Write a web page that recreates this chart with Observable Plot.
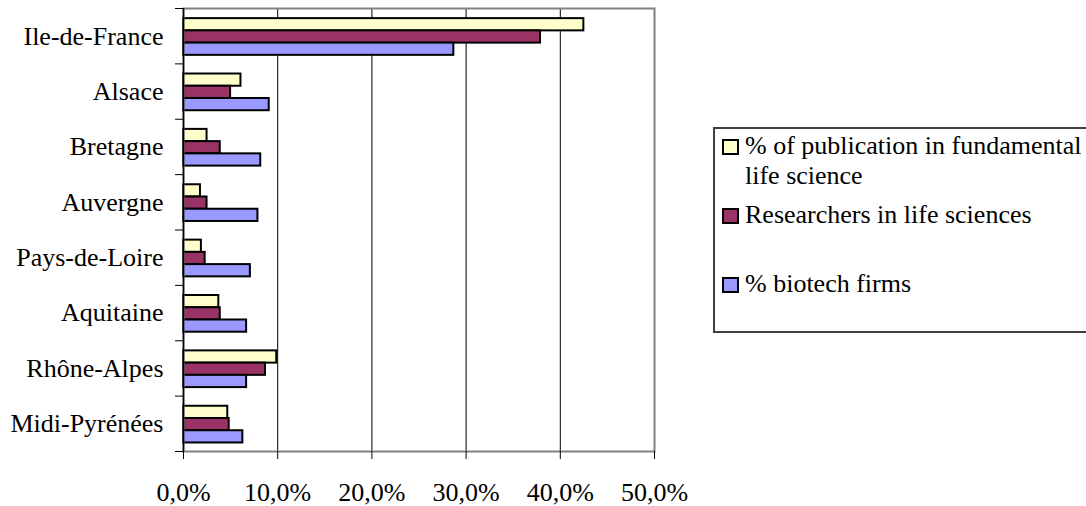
<!DOCTYPE html>
<html>
<head>
<meta charset="utf-8">
<script src="https://cdn.jsdelivr.net/npm/d3@7"></script>
<script src="https://cdn.jsdelivr.net/npm/@observablehq/plot@0.6"></script>
<style>
  html, body { margin: 0; padding: 0; background: #fff; overflow: hidden; }
  body { width: 1086px; height: 506px; position: relative; font-family: "Liberation Serif", "Times New Roman", serif; }
  #chart { position: absolute; left: 0; top: 0; }
  .legend-box { position: absolute; left: 713px; top: 127px; width: 420px; height: 206px; border: 2px solid #404040; box-sizing: border-box; }
  .sw { position: absolute; left: 722px; width: 17px; height: 16px; border: 2px solid #000; box-sizing: border-box; }
  .lt { position: absolute; left: 745px; font-size: 26px; line-height: 30px; color: #000; white-space: nowrap; }
</style>
</head>
<body>
<div id="chart"></div>
<div class="legend-box"></div>
<div id="legend"></div>
<script>
// ---- data (percent) ----
const regions = ["Ile-de-France", "Alsace", "Bretagne", "Auvergne", "Pays-de-Loire", "Aquitaine", "Rhône-Alpes", "Midi-Pyrénées"];
const seriesNames = ["% of publication in fundamental life science", "Researchers in life sciences", "% biotech firms"];
const publications = [42.5, 6.1, 2.5, 1.8, 1.9, 3.75, 9.9, 4.7];
const researchers  = [37.9, 5.0, 3.9, 2.5, 2.3, 3.9, 8.7, 4.85];
const biotech      = [28.7, 9.1, 8.2, 7.9, 7.1, 6.7, 6.7, 6.3];
const xTicks = [0, 10, 20, 30, 40, 50];
const colors = ["#FFFFCC", "#993366", "#9999FF"];

const seriesValues = [publications, researchers, biotech];
const table = [];
regions.forEach((r, i) => {
  seriesValues.forEach((vals, j) => {
    table.push({region: r, i, series: seriesNames[j], j, value: vals[i]});
  });
});

// layout within each category band (fraction of band)
const groupPad = 0.183, barFrac = 0.221;

const fmt = v => v.toFixed(1).replace(".", ",") + "%";

const chart = Plot.plot({
  width: 1086,
  height: 506,
  marginLeft: 183,
  marginRight: 432,
  marginTop: 8,
  marginBottom: 55,
  style: {fontFamily: "'Liberation Serif', 'Times New Roman', serif", fontSize: "26px", color: "#000", background: "#fff"},
  x: {domain: [0, 50], label: null},
  y: {domain: [0, regions.length], reverse: true, label: null},
  color: {domain: seriesNames, range: colors},
  marks: [
    Plot.gridX(xTicks.slice(1, -1), {stroke: "#000", strokeOpacity: 1, strokeWidth: 1}),
    Plot.rect(table, {
      x1: 0,
      x2: "value",
      y1: d => d.i + groupPad + d.j * barFrac,
      y2: d => d.i + groupPad + (d.j + 1) * barFrac,
      fill: "series",
      stroke: "#000",
      strokeWidth: 2
    }),
    Plot.frame({stroke: "#808080", strokeWidth: 2}),
    Plot.ruleX([0], {stroke: "#000", strokeWidth: 1.5}),
    Plot.axisX(xTicks, {anchor: "bottom", tickSize: 8, tickPadding: 23, tickFormat: fmt, fontSize: 26, stroke: "#000", label: null}),
    Plot.axisY(d3.range(regions.length + 1), {anchor: "left", tickSize: 8, tickFormat: () => "", stroke: "#000", label: null}),
    Plot.axisY(d3.range(regions.length).map(i => i + 0.5), {anchor: "left", tickSize: 0, tickPadding: 20, tickFormat: v => regions[Math.floor(v)], fontSize: 26, label: null})
  ]
});
document.getElementById("chart").appendChild(chart);

// ---- legend (HTML) ----
const legendItems = [
  {label: "% of publication in fundamental<br>life science", sw: 139, text: 131},
  {label: "Researchers in life sciences", sw: 208, text: 200},
  {label: "% biotech firms", sw: 277, text: 269}
];
const lg = document.getElementById("legend");
legendItems.forEach((it, k) => {
  const s = document.createElement("div");
  s.className = "sw";
  s.style.top = it.sw + "px";
  s.style.background = colors[k];
  lg.appendChild(s);
  const t = document.createElement("div");
  t.className = "lt";
  t.style.top = it.text + "px";
  t.innerHTML = it.label;
  lg.appendChild(t);
});
</script>
</body>
</html>
